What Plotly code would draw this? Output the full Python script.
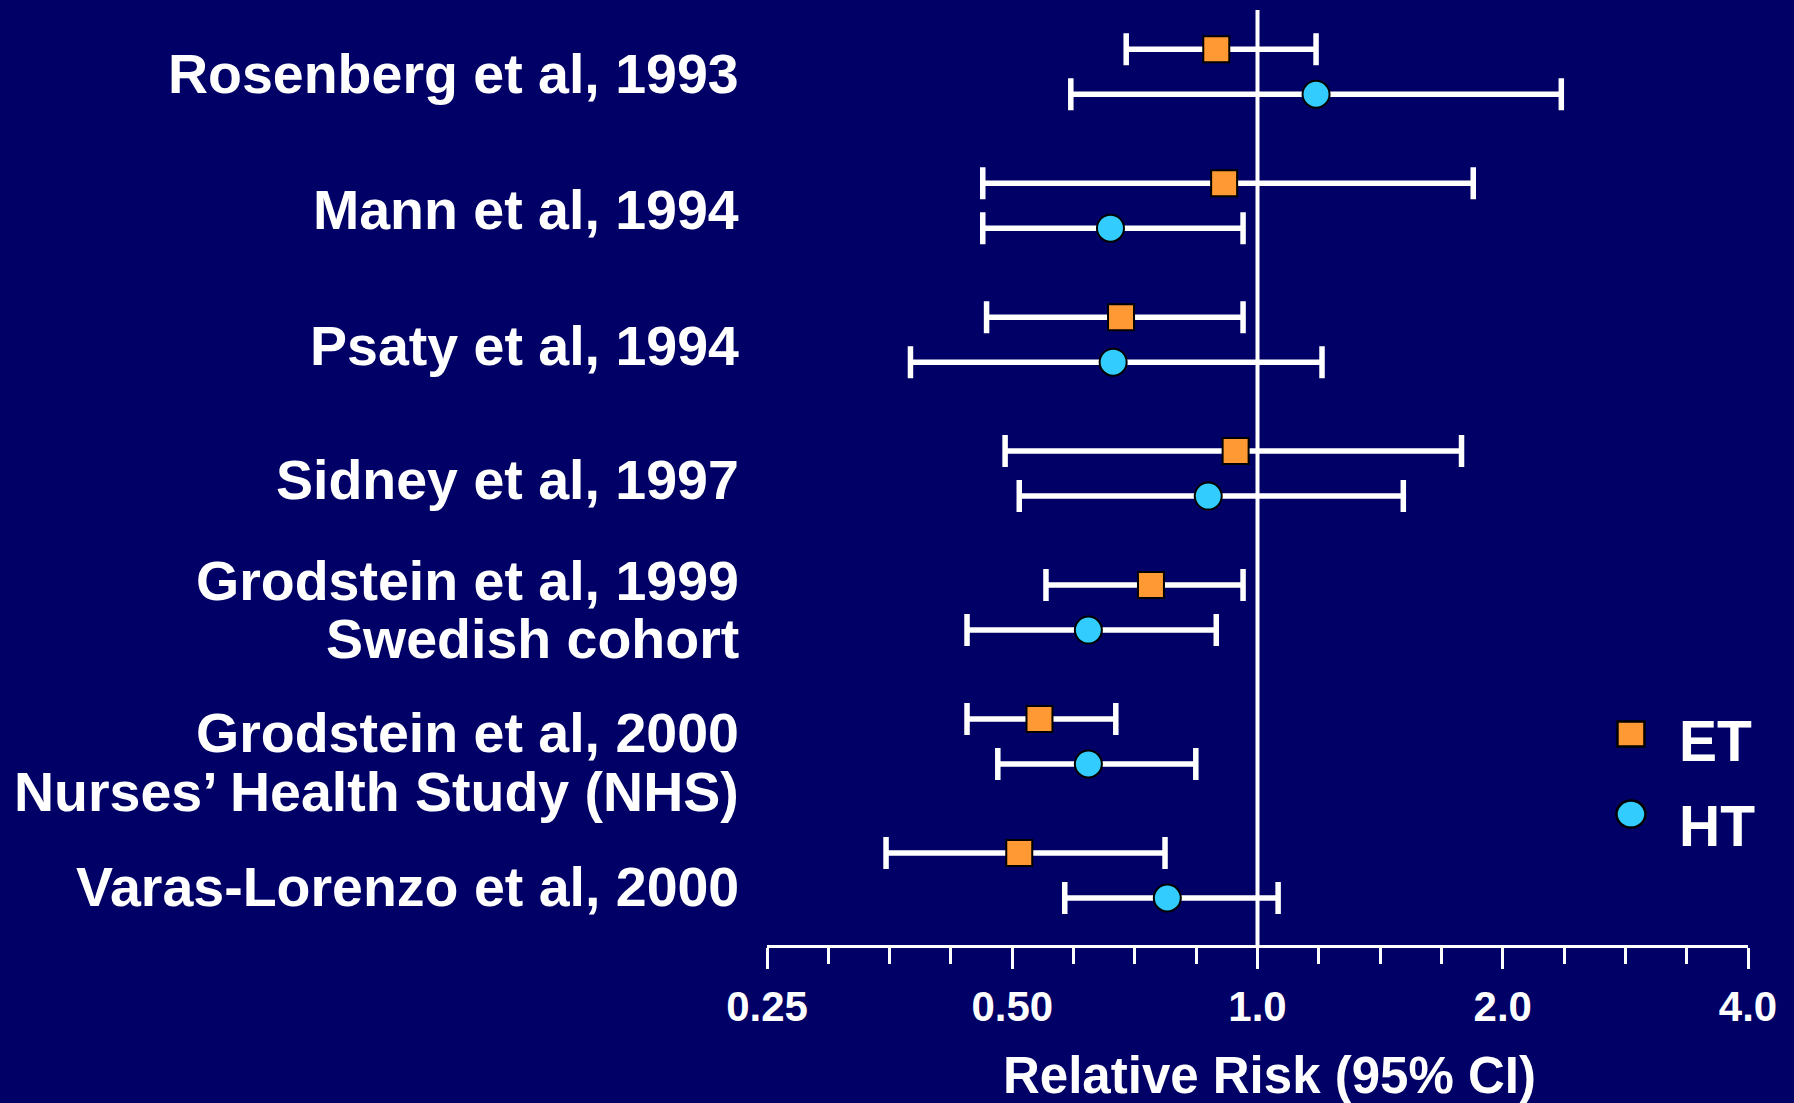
import math
import plotly.graph_objects as go

# ---------------- data ----------------
STUDY_LINES = [
    ["Rosenberg et al, 1993"],
    ["Mann et al, 1994"],
    ["Psaty et al, 1994"],
    ["Sidney et al, 1997"],
    ["Grodstein et al, 1999", "Swedish cohort"],
    ["Grodstein et al, 2000", "Nurses\u2019 Health Study (NHS)"],
    ["Varas-Lorenzo et al, 2000"],
]

ET_RR = [0.89, 0.91, 0.68, 0.94, 0.74, 0.54, 0.51]
ET_LO = [0.69, 0.46, 0.465, 0.49, 0.55, 0.44, 0.35]
ET_HI = [1.18, 1.84, 0.96, 1.78, 0.96, 0.67, 0.77]

HT_RR = [1.18, 0.66, 0.665, 0.87, 0.62, 0.62, 0.775]
HT_LO = [0.59, 0.46, 0.375, 0.51, 0.44, 0.48, 0.58]
HT_HI = [2.36, 0.96, 1.20, 1.51, 0.89, 0.84, 1.06]

MAJOR_TICKS = [0.25, 0.5, 1.0, 2.0, 4.0]
MAJOR_TICK_TEXT = ["0.25", "0.50", "1.0", "2.0", "4.0"]
REFERENCE_RR = 1.0

SERIES_NAMES = ["ET", "HT"]
X_TITLE = "Relative Risk (95% CI)"

# ---------------- styling ----------------
BG = "rgb(0,0,102)"
ORANGE = "#FF9933"
CYAN = "#33CCFF"
FONT = "Liberation Sans"
ROW_OFFSET = 0.168  # ET above, HT below the study row

# pixel nudges for label lines (yshift, positive = up)
LABEL_SHIFTS = [[-2.5], [-4.5], [-6.5], [-6.5], [26.5, -31.5], [8.5, -50.5], [-11.5]]

# minor ticks at quarter-doubling steps between major ticks
MINOR_TICKS = []
for a, b in zip(MAJOR_TICKS[:-1], MAJOR_TICKS[1:]):
    for k in (1, 2, 3):
        MINOR_TICKS.append(a * (b / a) ** (k / 4))

n = len(STUDY_LINES)
rows = list(range(n))

fig = go.Figure()

fig.add_trace(go.Scatter(
    x=ET_RR, y=[r - ROW_OFFSET for r in rows], mode="markers", name=SERIES_NAMES[0],
    marker=dict(symbol="square", size=26, color=ORANGE, line=dict(color="black", width=2)),
    error_x=dict(type="data", symmetric=False,
                 array=[h - v for h, v in zip(ET_HI, ET_RR)],
                 arrayminus=[v - l for v, l in zip(ET_RR, ET_LO)],
                 color="white", thickness=5.5, width=16),
))
fig.add_trace(go.Scatter(
    x=HT_RR, y=[r + ROW_OFFSET for r in rows], mode="markers", name=SERIES_NAMES[1],
    marker=dict(symbol="circle", size=27, color=CYAN, line=dict(color="black", width=2)),
    error_x=dict(type="data", symmetric=False,
                 array=[h - v for h, v in zip(HT_HI, HT_RR)],
                 arrayminus=[v - l for v, l in zip(HT_RR, HT_LO)],
                 color="white", thickness=5.5, width=16),
))

# reference line at RR = 1
fig.add_shape(type="line", xref="x", yref="paper", x0=REFERENCE_RR, x1=REFERENCE_RR,
              y0=0, y1=1, line=dict(color="white", width=4), layer="below")

# legend (large swatches, as in the original slide)
LEG_X = 0.8807
LEG_Y = [0.2257, 0.1401]
LEG_TEXT_X = 0.9274
LEG_TEXT_Y = [0.2182, 0.1275]
fig.add_shape(type="rect", xref="paper", yref="paper", xsizemode="pixel", ysizemode="pixel",
              xanchor=LEG_X, yanchor=LEG_Y[0], x0=-13.5, x1=13.5, y0=-12.5, y1=12.5,
              fillcolor=ORANGE, line=dict(color="black", width=2.5))
fig.add_shape(type="circle", xref="paper", yref="paper", xsizemode="pixel", ysizemode="pixel",
              xanchor=LEG_X, yanchor=LEG_Y[1], x0=-14.5, x1=14.5, y0=-13.5, y1=13.5,
              fillcolor=CYAN, line=dict(color="black", width=2.5))

annotations = []
for i, (lines, shifts) in enumerate(zip(STUDY_LINES, LABEL_SHIFTS)):
    for txt, sh in zip(lines, shifts):
        annotations.append(dict(
            text=txt, xref="paper", x=0, xanchor="right", xshift=-26,
            yref="y", y=i, yanchor="middle", yshift=sh, showarrow=False,
            font=dict(family=FONT, size=55.5, color="white", weight="bold"),
        ))
annotations.append(dict(
    text=X_TITLE, xref="paper", x=0.5127, xanchor="center",
    yref="paper", y=-0.1401, yanchor="middle", showarrow=False,
    font=dict(family=FONT, size=51, color="white", weight="bold"),
))
for name, ty in zip(SERIES_NAMES, LEG_TEXT_Y):
    annotations.append(dict(
        text=name, xref="paper", x=LEG_TEXT_X, xanchor="left",
        yref="paper", y=ty, yanchor="middle", showarrow=False,
        font=dict(family=FONT, size=57, color="white", weight="bold"),
    ))

fig.update_layout(
    width=1794, height=1103,
    margin=dict(l=767, r=46, t=10, b=158),
    paper_bgcolor=BG, plot_bgcolor=BG,
    showlegend=False,
    annotations=annotations,
    xaxis=dict(
        type="log", range=[math.log10(MAJOR_TICKS[0]), math.log10(MAJOR_TICKS[-1])],
        showgrid=False, zeroline=False, showline=True, linecolor="white", linewidth=3,
        tickmode="array", tickvals=MAJOR_TICKS, ticktext=MAJOR_TICK_TEXT,
        ticks="outside", ticklen=21, tickwidth=3, tickcolor="white",
        ticklabelstandoff=2,
        tickfont=dict(family=FONT, size=42, color="white", weight="bold"),
        minor=dict(tickmode="array", tickvals=MINOR_TICKS, ticks="outside",
                   ticklen=16, tickwidth=3, tickcolor="white", showgrid=False),
        fixedrange=True,
    ),
    yaxis=dict(range=[6.519, -0.461], visible=False, showgrid=False, zeroline=False,
               fixedrange=True),
)

fig.write_html("out.html", config={"displayModeBar": False},
               post_script="document.body.style.margin='0';document.body.style.overflow='hidden';")
